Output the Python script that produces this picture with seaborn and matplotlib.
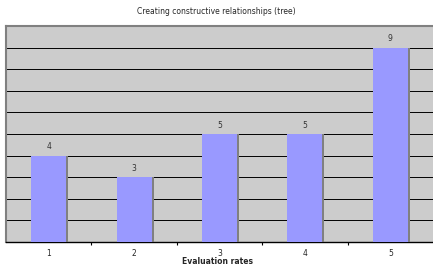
import numpy as np
import pandas as pd
import seaborn as sns
import matplotlib
matplotlib.use("Agg")
import matplotlib.pyplot as plt
import matplotlib.patheffects as pe

rates = ["1", "2", "3", "4", "5"]
counts = [4, 3, 5, 5, 9]

df = pd.DataFrame({"rate": rates, "count": counts})

sns.set_style("white")
plt.rcParams['font.family'] = ['DejaVu Sans']

fig = plt.figure(figsize=(4.33, 2.67), dpi=100)
ax = fig.add_axes([0.0139, 0.0936, 0.9861, 0.809])
ax.set_facecolor('#cccccc')

sns.barplot(data=df, x="rate", y="count", color='#9999ff', saturation=1,
            width=0.41, ax=ax, zorder=3)
for p in ax.patches:
    p.set_linewidth(0)
    p.set_path_effects([pe.SimplePatchShadow(offset=(1.4, 0), shadow_rgbFace='#808080', alpha=1),
                        pe.Normal()])

ax.set_ylim(0, 10)
ax.set_xlim(-0.5, 4.5)
for v in range(1, 10):
    ax.axhline(v, color='black', lw=0.7, zorder=1)

for i, c in enumerate(counts):
    ax.text(i, c + 0.2, str(c), ha='center', va='bottom', fontsize=5.5, color='#333333')

ax.set_yticks([])
ax.set_xticks(range(5))
ax.set_xticklabels(rates, fontsize=5.5)
ax.tick_params(axis='x', which='major', bottom=False, length=0, pad=5)
ax.set_xticks(np.arange(0.5, 4.5, 1), minor=True)
ax.tick_params(axis='x', which='minor', bottom=True, length=2.5, width=0.8,
               color='black', direction='out')

for side in ['left', 'top']:
    ax.spines[side].set_color('#808080')
    ax.spines[side].set_linewidth(1.5)
ax.spines['right'].set_visible(False)
ax.spines['bottom'].set_color('black')
ax.spines['bottom'].set_linewidth(1)

ax.set_xlabel("")
ax.set_ylabel("")
fig.text(0.503, 0.002, "Evaluation rates", fontsize=5.5, fontweight='bold',
         ha='center', va='bottom')
fig.suptitle("Creating constructive relationships (tree)", fontsize=5.5, y=0.975)

fig.savefig("out.png", dpi=100)
